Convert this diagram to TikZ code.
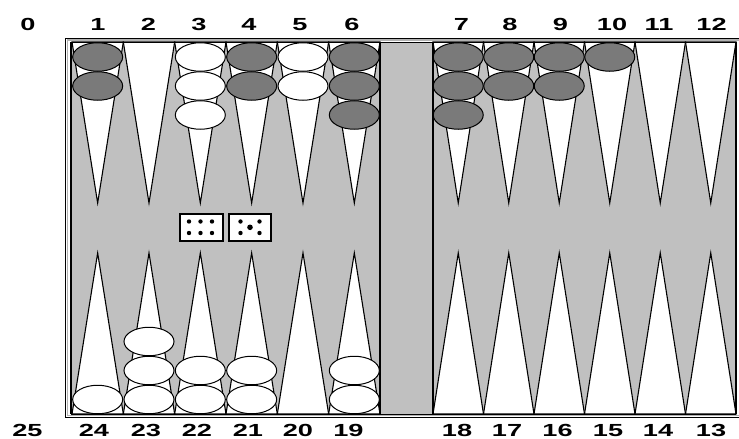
\documentclass[tikz,border=0pt]{standalone}
\usepackage{fontspec}
\setmainfont{Liberation Sans}
\usetikzlibrary{shapes.geometric}
\definecolor{BoardGray}{HTML}{C0C0C0}
\definecolor{ManDark}{HTML}{7A7A7A}
\newcommand{\widenum}[1]{\scalebox{1.55}[1]{#1}}
\tikzset{
  frame/.style={draw=black, line width=0.8pt},
  point/.style={fill=white, draw=black, line width=1.1pt, line join=miter},
  darkman/.style={ellipse, draw=black, line width=1pt, fill=ManDark,
                  minimum width=50pt, minimum height=28.5pt, inner sep=0pt},
  lightman/.style={darkman, fill=white},
  die/.style={draw=black, line width=2.2pt, fill=white, inner sep=0pt},
  pip/.style={circle, fill=black, inner sep=0pt, minimum size=4.4pt},
  num/.style={font=\fontsize{17.5}{17.5}\selectfont\bfseries, inner sep=0pt,
              anchor=base}
}

\begin{document}
\begin{tikzpicture}[x=1pt, y=-1pt]
  \useasboundingbox (0,0) rectangle (739,439);
  % outer frame
  \draw[frame] (739,38) -- (65,38) -- (65,417) -- (739,417);
  \draw[gray!60, line width=1.2pt] (739,40) -- (67.5,40) -- (67.5,415.5) -- (739,415.5);
  % playing field
  \fill[BoardGray] (71,42) rectangle (736,414);
  % points
  \foreach \i in {0,...,5}{
    \pgfmathsetmacro\xa{72+51.33*\i}
    \pgfmathsetmacro\xb{433+50.5*\i}
    \draw[point] (\xa,42) -- ++(51.33,0) -- ++(-25.67,161) -- cycle;
    \draw[point] (\xa,414) -- ++(51.33,0) -- ++(-25.67,-161) -- cycle;
    \draw[point] (\xb,42) -- ++(50.5,0) -- ++(-25.25,161) -- cycle;
    \draw[point] (\xb,414) -- ++(50.5,0) -- ++(-25.25,-161) -- cycle;
  }
  % bar
  \fill[BoardGray] (380,42) rectangle (433,414);
  \draw[line width=1pt] (71,42) -- (736,42);
  \draw[line width=1pt] (71,414) -- (736,414);
  \draw[line width=2.2pt] (71,42) -- (71,414);
  \draw[line width=2.2pt] (736,42) -- (736,414);
  \draw[line width=2.2pt] (380,42) -- (380,414);
  \draw[line width=2.2pt] (433,42) -- (433,414);
  % checkers on the upper points
  \foreach \c/\n/\s in {1/2/darkman, 3/3/lightman, 4/2/darkman, 5/2/lightman,
                        6/3/darkman, 7/3/darkman, 8/2/darkman, 9/2/darkman,
                        10/1/darkman}{
    \pgfmathsetmacro\cx{\c<7 ? 72+51.33*(\c-0.5) : 433+50.5*(\c-6.5)}
    \foreach \k in {1,...,\n}
      \node[\s] (up\c-\k) at (\cx,{57+29*(\k-1)}) {};
  }
  % checkers on the lower points
  \foreach \c/\n in {1/1, 2/3, 3/2, 4/2, 6/2}{
    \pgfmathsetmacro\cx{72+51.33*(\c-0.5)}
    \foreach \k in {1,...,\n}
      \node[lightman] (lo\c-\k) at (\cx,{399.5-29*(\k-1)}) {};
  }
  % dice
  \node[die, minimum width=43pt, minimum height=27pt] (dieA) at (201.5,227.5) {};
  \node[die, minimum width=42pt, minimum height=27pt] (dieB) at (250,227.5) {};
  \foreach \px in {189,200.5,212}
    \foreach \py in {221.5,233}
      \node[pip] at (\px,\py) {};
  \foreach \px/\py in {240.5/221.5, 259.5/221.5, 240.5/233, 259.5/233}
    \node[pip] at (\px,\py) {};
  \node[pip, minimum size=5.6pt] at (250,227.3) {};
  % point numbers
  \foreach \t/\x in {0/28, 1/98, 2/148.5, 3/199, 4/249, 5/300, 6/352,
                     7/461.5, 8/510, 9/560.5, 10/612, 11/659, 12/711.5}
    \node[num] (top\t) at (\x,30.2) {\widenum{\t}};
  \foreach \t/\x in {25/27.5, 24/94, 23/146, 22/197, 21/248, 20/298, 19/348.5,
                     18/457, 17/507, 16/557.5, 15/608, 14/658, 13/711}
    \node[num] (bot\t) at (\x,436.5) {\widenum{\t}};
\end{tikzpicture}
\end{document}
